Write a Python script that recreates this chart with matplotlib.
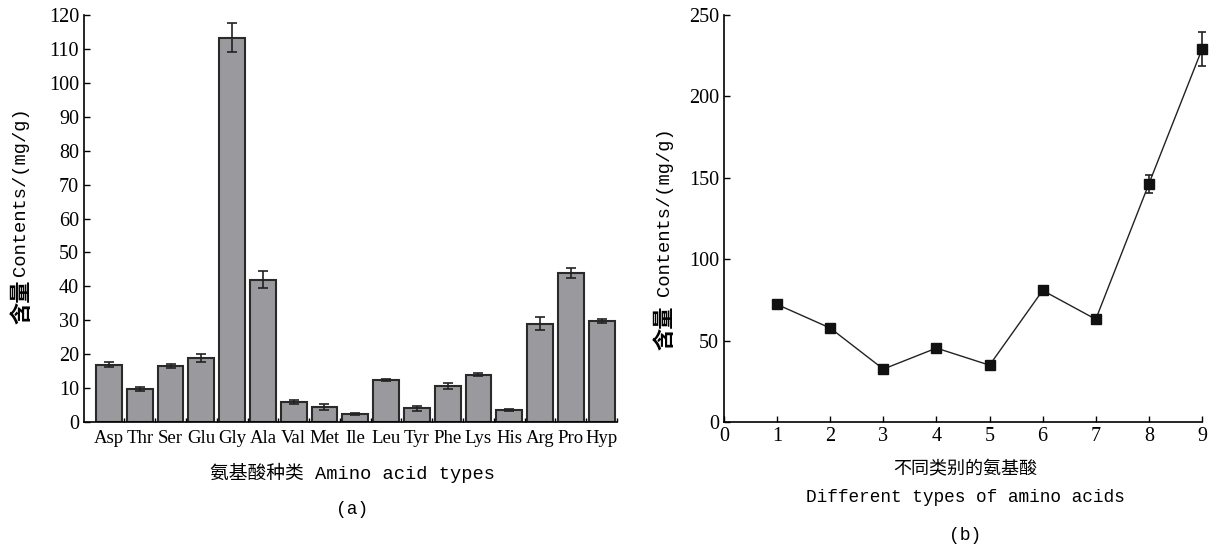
import matplotlib.pyplot as plt
import numpy as np

# panel (a): amino acid contents
acids = ["Asp", "Thr", "Ser", "Glu", "Gly", "Ala", "Val", "Met", "Ile",
         "Leu", "Tyr", "Phe", "Lys", "His", "Arg", "Pro", "Hyp"]
acid_vals = [16.9, 9.6, 16.5, 18.9, 113.3, 42.0, 5.9, 4.4, 2.35,
             12.45, 4.0, 10.5, 14.0, 3.5, 29.0, 43.9, 29.8]
acid_errs = [0.8, 0.6, 0.7, 1.2, 4.2, 2.4, 0.5, 0.9, 0.2,
             0.3, 0.7, 0.9, 0.4, 0.2, 2.0, 1.5, 0.7]

# panel (b): contents by amino acid class
types = [1, 2, 3, 4, 5, 6, 7, 8, 9]
type_vals = [72.2, 57.7, 32.5, 45.4, 34.9, 80.8, 63.1, 146.3, 229.0]
type_errs = [2.5, 1.5, 1.5, 1.5, 1.5, 3.0, 1.5, 5.6, 10.5]

num_font = "Liberation Serif"
lab_font = ["Liberation Mono", "Noto Sans CJK SC"]
cjk_font = "Noto Sans CJK SC"

fig = plt.figure(figsize=(12.12, 5.49), dpi=100)

# ---- (a) ----
ax1 = fig.add_axes([84 / 1212, 1 - 422 / 549, 533 / 1212, 407 / 549])
x = np.arange(len(acids))
ax1.bar(x, acid_vals, width=0.84, color="#9a9a9e", edgecolor="#2a2a2a", linewidth=1.5,
        yerr=acid_errs, error_kw=dict(ecolor="#222222", elinewidth=1.2, capsize=3.5, capthick=1.2))
ax1.set_xlim(-0.81, 16.5)
ax1.set_ylim(0, 120)
ax1.set_yticks(range(0, 121, 10))
ax1.set_xticks(x)
ax1.set_xticklabels(acids)
ax1.set_xticks(np.arange(0.5, 17, 1), minor=True)
ax1.tick_params(axis="x", which="major", length=0, pad=6)
ax1.tick_params(axis="x", which="minor", direction="in", length=3, width=1)
ax1.tick_params(axis="y", direction="in", length=4, width=1)
for lab in ax1.get_xticklabels():
    lab.set_fontfamily(num_font)
    lab.set_fontsize(13.5)
for lab in ax1.get_yticklabels():
    lab.set_fontfamily(num_font)
    lab.set_fontsize(14.5)

# ---- (b) ----
ax2 = fig.add_axes([724 / 1212, 1 - 422 / 549, 478 / 1212, 407 / 549])
ax2.errorbar(types, type_vals, yerr=type_errs, color="#222222", linewidth=1.0,
             marker="s", markersize=6.5, markerfacecolor="#111111", markeredgecolor="#111111",
             ecolor="#222222", elinewidth=1.2, capsize=3, capthick=1.2, clip_on=False)
ax2.set_xlim(0, 9)
ax2.set_ylim(0, 250)
ax2.set_xticks(range(0, 10))
ax2.set_yticks(range(0, 251, 50))
ax2.tick_params(direction="in", length=4, width=1)
for lab in ax2.get_xticklabels() + ax2.get_yticklabels():
    lab.set_fontfamily(num_font)
    lab.set_fontsize(14.5)

for ax in (ax1, ax2):
    ax.spines["top"].set_visible(False)
    ax.spines["right"].set_visible(False)
    ax.spines["left"].set_linewidth(1.2)
    ax.spines["bottom"].set_linewidth(1.2)

# labels
fig.text(352 / 1212, 1 - 473 / 549, "氨基酸种类 Amino acid types", family=lab_font,
         fontsize=13.5, ha="center", va="center")
fig.text(352 / 1212, 1 - 510 / 549, "(a)", family=lab_font, fontsize=13, ha="center", va="center")
fig.text(22 / 1212, 1 - 302 / 549, "含量", family=cjk_font, fontsize=16, fontweight="bold",
         rotation=90, ha="center", va="center")
fig.text(21 / 1212, 1 - 192 / 549, "Contents/(mg/g)", family=lab_font, fontsize=13.5,
         rotation=90, ha="center", va="center")

fig.text(965 / 1212, 1 - 470 / 549, "不同类别的氨基酸", family=lab_font,
         fontsize=13, ha="center", va="center")
fig.text(965 / 1212, 1 - 498 / 549, "Different types of amino acids", family=lab_font,
         fontsize=12.8, ha="center", va="center")
fig.text(965 / 1212, 1 - 536 / 549, "(b)", family=lab_font, fontsize=13, ha="center", va="center")
fig.text(665 / 1212, 1 - 328 / 549, "含量", family=cjk_font, fontsize=16, fontweight="bold",
         rotation=90, ha="center", va="center")
fig.text(664 / 1212, 1 - 212 / 549, "Contents/(mg/g)", family=lab_font, fontsize=13.5,
         rotation=90, ha="center", va="center")

fig.savefig("out.png", dpi=100)
